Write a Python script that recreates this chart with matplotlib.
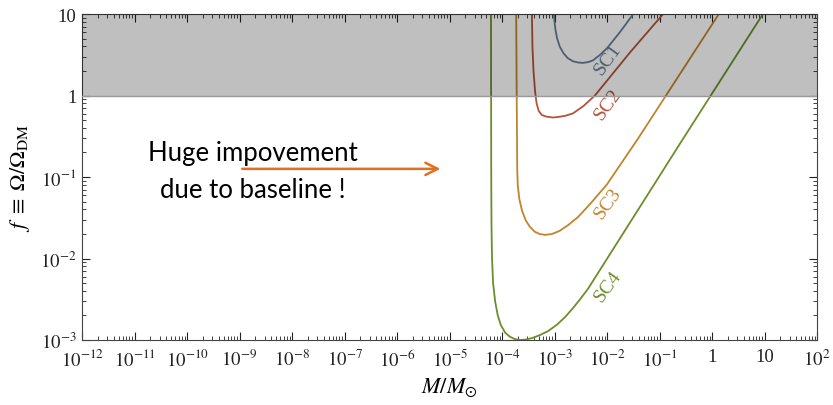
import numpy as np
import matplotlib.pyplot as plt
from matplotlib.ticker import FixedLocator, LogLocator, NullFormatter

plt.rcParams['mathtext.fontset'] = 'stix'
plt.rcParams['font.family'] = 'Liberation Serif'

# curves, in log10 units (log M/Msun, log f)
sc1_logm = [-3.01, -3.0, -2.98, -2.95, -2.9, -2.83, -2.75, -2.65, -2.55, -2.46,
            -2.36, -2.27, -2.13, -2.0, -1.75, -1.50]
sc1_logf = [1.0, 0.9, 0.8, 0.7, 0.6, 0.52, 0.46, 0.42, 0.405, 0.40,
            0.41, 0.43, 0.5, 0.58, 0.78, 1.0]

sc2_logm = [-3.43, -3.42, -3.40, -3.37, -3.34, -3.30, -3.24, -3.15, -3.03, -2.95,
            -2.8, -2.65, -2.45, -2.23, -1.56, -0.93]
sc2_logf = [1.0, 0.6, 0.3, 0.05, -0.1, -0.19, -0.24, -0.26, -0.27, -0.265,
            -0.25, -0.22, -0.13, 0.0, 0.53, 1.0]

sc3_logm = [-3.73, -3.72, -3.71, -3.70, -3.67, -3.62, -3.55, -3.47, -3.38, -3.28,
            -3.18, -3.05, -2.9, -2.74, -2.55, -2.32, -2.0, -1.41, 0.13]
sc3_logf = [1.0, 0.0, -0.9, -1.1, -1.27, -1.41, -1.53, -1.61, -1.67, -1.70,
            -1.71, -1.70, -1.66, -1.59, -1.49, -1.33, -1.09, -0.53, 1.0]

sc4_logm = [-4.21, -4.205, -4.20, -4.19, -4.17, -4.13, -4.08, -4.02, -3.94, -3.85,
            -3.75, -3.66, -3.55, -3.42, -3.28, -3.12, -2.95, -2.8, -2.65, -2.5,
            -2.36, -0.55, 0.97]
sc4_logf = [1.0, -1.0, -1.6, -2.0, -2.3, -2.53, -2.7, -2.82, -2.91, -2.96,
            -2.99, -3.0, -2.995, -2.975, -2.94, -2.89, -2.81, -2.72, -2.61, -2.49,
            -2.37, -0.53, 1.0]

labels = ['SC1', 'SC2', 'SC3', 'SC4']
label_logf = [0.45, -0.10, -1.31, -2.34]
colors = ['#6a7d96', '#b5523a', '#c0852b', '#6b8e2c']

xtick_vals = [10.0**k for k in range(-12, 3)]
xtick_labels = ['$10^{%d}$' % k for k in range(-12, 0)] + ['1', '10', '$10^{2}$']
ytick_vals = [1e-3, 1e-2, 1e-1, 1, 10]
ytick_labels = ['$10^{-3}$', '$10^{-2}$', '$10^{-1}$', '1', '10']

fig = plt.figure(figsize=(8.33, 4.06), dpi=100)
ax = fig.add_axes([82/833, 1-341/406, 735/833, 326/406])

curves = [(sc1_logm, sc1_logf), (sc2_logm, sc2_logf), (sc3_logm, sc3_logf), (sc4_logm, sc4_logf)]
for (lm, lf), c in zip(curves, colors):
    ax.plot(10**np.array(lm), 10**np.array(lf), color=c, lw=1.3, zorder=2)

for lab, lf, c in zip(labels, label_logf, colors):
    ax.text(10**-1.98, 10**lf, lab, color=c, fontsize=14, rotation=54,
            ha='center', va='center', zorder=2)

# excluded region f > 1
ax.axhspan(1, 10, color='black', alpha=0.25, lw=0, zorder=3)
ax.axhline(1, color='#9a9a9a', lw=1.0, zorder=3)

ax.annotate('', xy=(10**-5.12, 10**-0.90), xytext=(10**-9.0, 10**-0.90),
            arrowprops=dict(arrowstyle='->', color='#e0701e', lw=1.8,
                            mutation_scale=22))
ax.text(10**-8.74, 10**-0.93, 'Huge impovement\ndue to baseline !', fontsize=18.5,
        family='Lato', ha='center', va='center', linespacing=1.6)

ax.set_xscale('log')
ax.set_yscale('log')
ax.set_xlim(1e-12, 1e2)
ax.set_ylim(1e-3, 10)

ax.xaxis.set_major_locator(FixedLocator(xtick_vals))
ax.set_xticklabels(xtick_labels)
ax.yaxis.set_major_locator(FixedLocator(ytick_vals))
ax.set_yticklabels(ytick_labels)
ax.xaxis.set_minor_locator(LogLocator(base=10, subs=np.arange(2, 10), numticks=100))
ax.yaxis.set_minor_locator(LogLocator(base=10, subs=np.arange(2, 10), numticks=100))
ax.xaxis.set_minor_formatter(NullFormatter())
ax.yaxis.set_minor_formatter(NullFormatter())
ax.tick_params(which='both', direction='in', top=True, right=True, labelsize=13.5, colors='#222222')
ax.tick_params(axis='x', which='major', pad=6)
ax.tick_params(axis='y', which='major', pad=4)
ax.tick_params(which='major', length=6, width=0.8)
ax.tick_params(which='minor', length=3, width=0.6)
for s in ax.spines.values():
    s.set_color('#444444')

ax.set_xlabel(r'$M/M_{\odot}$', fontsize=16, labelpad=4)
ax.set_ylabel(r'$f\ \equiv\ \Omega/\Omega_{\rm DM}$', fontsize=16, labelpad=6)

plt.savefig('out.png', dpi=100)
